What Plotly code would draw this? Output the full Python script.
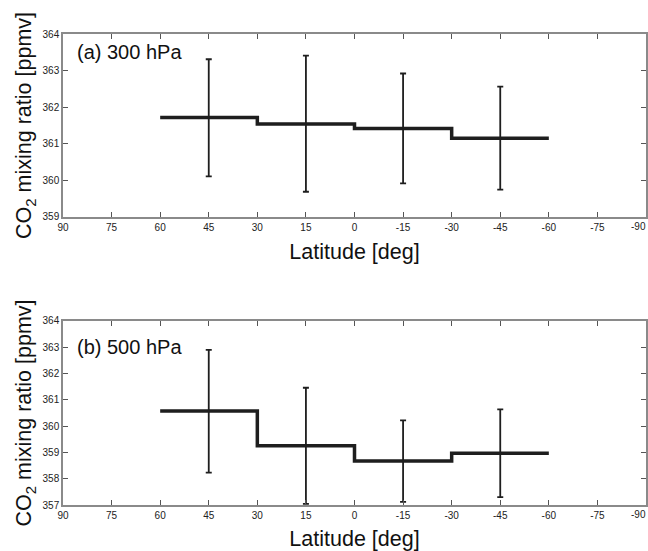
import plotly.graph_objects as go

# Latitude band edges (deg) and centres
edges = [60, 30, 0, -30, -60]
centres = [45, 15, -15, -45]

# (a) 300 hPa
a_mean = [361.72, 361.54, 361.42, 361.15]
a_top = [363.31, 363.41, 362.92, 362.56]
a_bot = [360.11, 359.69, 359.92, 359.75]

# (b) 500 hPa
b_mean = [360.58, 359.25, 358.67, 358.97]
b_top = [362.90, 361.46, 360.22, 360.64]
b_bot = [358.23, 357.04, 357.12, 357.30]

xticks = [90, 75, 60, 45, 30, 15, 0, -15, -30, -45, -60, -75, -90]
# last tick label is drawn as an annotation so it stays inside the page
xticklabels = [str(v) for v in xticks[:-1]] + [""]
last_label = str(xticks[-1])

fig = go.Figure()

def add_panel(mean, top, bot, xa, ya):
    fig.add_trace(go.Scatter(
        x=edges, y=mean + [mean[-1]], mode="lines", line=dict(shape="hv", color="#1e1e1e", width=3.5),
        xaxis=xa, yaxis=ya, showlegend=False, hoverinfo="skip"))
    fig.add_trace(go.Scatter(
        x=centres, y=mean, mode="markers", marker=dict(size=1, color="rgba(0,0,0,0)"),
        error_y=dict(type="data", symmetric=False,
                     array=[t - m for t, m in zip(top, mean)],
                     arrayminus=[m - b for m, b in zip(mean, bot)],
                     color="#1e1e1e", thickness=1.8, width=3),
        xaxis=xa, yaxis=ya, showlegend=False))

add_panel(a_mean, a_top, a_bot, "x", "y")
add_panel(b_mean, b_top, b_bot, "x2", "y2")

font = "Liberation Sans, Arial, sans-serif"
tickfont = dict(family=font, size=10, color="#222")
axis_common = dict(showgrid=False, zeroline=False, showline=True, linecolor="#8a8a8a", linewidth=1.5,
                   mirror="ticks", ticks="inside", ticklen=5, tickcolor="#555", tickwidth=1,
                   automargin=False, tickfont=tickfont)

xcommon = dict(axis_common, range=[90, -90], tickvals=xticks, ticktext=xticklabels,
               title=dict(text="Latitude [deg]", font=dict(family=font, size=21.5, color="#111"), standoff=12))
ytitle = dict(text="CO<sub>2</sub> mixing ratio [ppmv]", font=dict(family=font, size=21.5, color="#111"), standoff=5)

fig.update_layout(
    width=648, height=551, plot_bgcolor="white", paper_bgcolor="white",
    margin=dict(l=63, r=2, t=34, b=46),
    xaxis=dict(xcommon, domain=[0, 1], anchor="y"),
    yaxis=dict(axis_common, domain=[0.6115, 1.0], range=[359, 364], dtick=1, anchor="x", title=ytitle),
    xaxis2=dict(xcommon, domain=[0, 1], anchor="y2"),
    yaxis2=dict(axis_common, domain=[0.0, 0.3907], range=[357, 364], dtick=1, anchor="x2", title=ytitle),
    annotations=[
        dict(text="(a) 300 hPa", xref="x domain", yref="y domain", x=0.02, y=0.97, xanchor="left", yanchor="top",
             showarrow=False, font=dict(family=font, size=20, color="#111")),
        dict(text="(b) 500 hPa", xref="x2 domain", yref="y2 domain", x=0.02, y=0.93, xanchor="left", yanchor="top",
             showarrow=False, font=dict(family=font, size=20, color="#111")),
        dict(text=last_label, xref="paper", yref="y domain", x=1.0, y=0, xanchor="right", yanchor="top",
             yshift=-2, xshift=2, showarrow=False, font=tickfont),
        dict(text=last_label, xref="paper", yref="y2 domain", x=1.0, y=0, xanchor="right", yanchor="top",
             yshift=-2, xshift=2, showarrow=False, font=tickfont),
    ],
)

fig.write_html("out.html", config={"displayModeBar": False},
               post_script="document.body.style.margin='0';document.body.style.overflow='hidden';")
